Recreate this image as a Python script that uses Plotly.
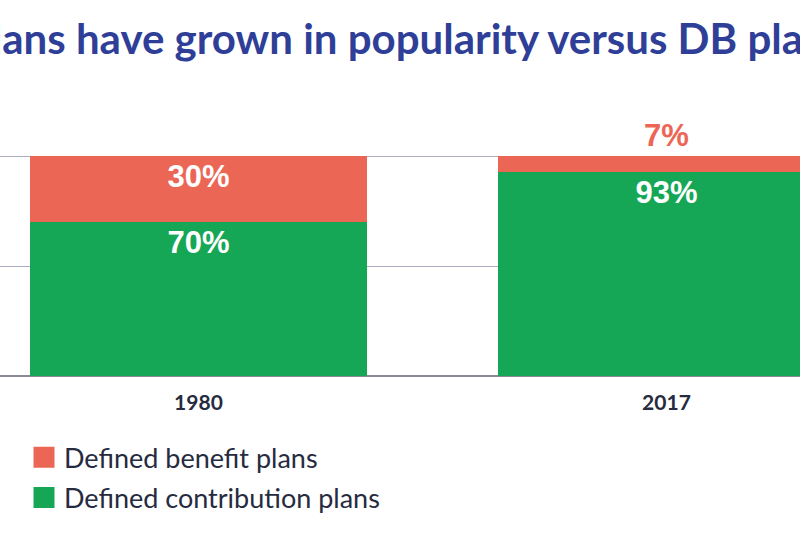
import plotly.graph_objects as go

years = ["1980", "2017"]
db_share = [30, 7]
dc_share = [70, 93]
db_labels = ["30%", "7%"]
dc_labels = ["70%", "93%"]
title_text = "DC plans have grown in popularity versus DB plans"

RED = "#EC6656"
GREEN = "#15A756"
NAVY = "#2F3F98"
TXT = "#262B40"

VAL_FONT = dict(family="Liberation Sans", size=31, color="white", weight="bold")

fig = go.Figure()
fig.add_trace(go.Bar(
    x=years, y=dc_share, name="Defined contribution plans",
    marker=dict(color=GREEN, line=dict(width=0)),
    text=dc_labels, textposition="inside", insidetextanchor="end",
    textfont=VAL_FONT, constraintext="none",
    showlegend=False, hoverinfo="skip", cliponaxis=False,
))
fig.add_trace(go.Bar(
    x=years, y=db_share, name="Defined benefit plans",
    marker=dict(color=RED, line=dict(width=0)),
    text=db_labels, textposition=["inside", "outside"], insidetextanchor="end",
    textfont=VAL_FONT,
    outsidetextfont=dict(VAL_FONT, color=RED),
    constraintext="none",
    showlegend=False, hoverinfo="skip", cliponaxis=False,
))
# legend entries
for name, col in [("Defined benefit plans", RED), ("Defined contribution plans", GREEN)]:
    fig.add_trace(go.Scatter(
        x=[None], y=[None], mode="markers", name=name, legendgroup=name,
        marker=dict(symbol="square", size=16, color=col, line=dict(color=col, width=5)),
    ))

fig.add_annotation(
    text=title_text, xref="paper", yref="paper", x=-0.130, y=1.5225,
    xanchor="left", yanchor="middle", showarrow=False,
    font=dict(family="Lato", size=42, color=NAVY, weight="bold"),
)

fig.update_layout(
    width=800, height=551,
    margin=dict(l=0, r=0, t=154, b=175),
    paper_bgcolor="white", plot_bgcolor="white",
    barmode="stack", bargap=0.28,
    showlegend=True,
    legend=dict(
        x=0.03, y=-0.258, xanchor="left", yanchor="top",
        font=dict(family="Lato", size=27, color=TXT),
        traceorder="grouped", tracegroupgap=2,
        bgcolor="rgba(0,0,0,0)",
    ),
    xaxis=dict(
        range=[-0.4241, 1.2853], showgrid=False, zeroline=False,
        showline=False, ticks="", ticklabelstandoff=12,
        tickfont=dict(family="Lato", size=21, color=TXT, weight="bold"),
    ),
    yaxis=dict(
        range=[0, 101], tickvals=[0, 50, 100], showticklabels=False,
        showgrid=True, gridcolor="#ABADC0", gridwidth=1.2,
        zeroline=True, zerolinecolor="#8A8A96", zerolinewidth=1.6,
        showline=False, fixedrange=True,
    ),
)

fig.write_html(
    "out.html",
    config={"displayModeBar": False, "staticPlot": True},
    post_script="document.body.style.margin='0';document.body.style.overflow='hidden';",
)
